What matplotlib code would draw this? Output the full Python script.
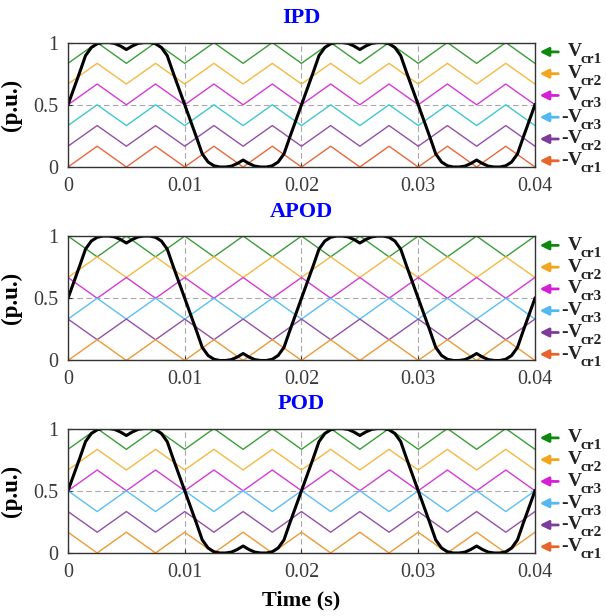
import numpy as np
import matplotlib.pyplot as plt

plt.rcParams['font.family'] = ['Liberation Serif', 'DejaVu Serif']

# modulating signal, read every 0.5 ms over two periods (p.u.)
ref_period = [0.5, 0.63, 0.76, 0.895, 0.96, 0.99, 1.0, 1.0, 0.993, 0.972,
              0.944, 0.972, 0.993, 1.0, 1.0, 0.99, 0.96, 0.895, 0.76, 0.63,
              0.5, 0.37, 0.24, 0.105, 0.04, 0.01, 0.0, 0.0, 0.007, 0.028,
              0.056, 0.028, 0.007, 0.0, 0.0, 0.01, 0.04, 0.105, 0.24, 0.37]
ref_values = ref_period + ref_period + [0.5]
ref_time = np.linspace(0, 0.04, len(ref_values))

# carriers: triangle vertices every 2.5 ms
carrier_time = np.linspace(0, 0.04, 17)
carrier_low = [0.833, 0.667, 0.5, 0.333, 0.167, 0.0]
carrier_high = [1.0, 0.833, 0.667, 0.5, 0.333, 0.167]

schemes = ['IPD', 'APOD', 'POD']
# does the carrier start on its upper vertex at t = 0?
ipd_start_high = [False, False, False, False, False, False]
apod_start_high = [True, False, True, False, True, False]
pod_start_high = [False, False, False, True, True, True]

ipd_colors = ['#3a9e3a', '#f5b942', '#d63ad6', '#3fc8cf', '#9450a8', '#e8693c']
od_colors = ['#3a9e3a', '#f5b942', '#d63ad6', '#5bbff2', '#9450a8', '#ee9a35']
arrow_colors = ['#0d8a0d', '#f2a51d', '#d61ed6', '#52b9f2', '#7d3b9a', '#e8642a']
legend_signs = ['', '', '', '-', '-', '-']
legend_subs = ['cr1', 'cr2', 'cr3', 'cr3', 'cr2', 'cr1']

fig = plt.figure(figsize=(6.06, 6.16), dpi=100)
panel_bottoms = [0.7289, 0.4148, 0.1023]
starts = [ipd_start_high, apod_start_high, pod_start_high]
colors = [ipd_colors, od_colors, od_colors]

for k, name in enumerate(schemes):
    ax = fig.add_axes([0.1122, panel_bottoms[k], 0.7706, 0.2020])
    for i in range(6):
        lo, hi = carrier_low[i], carrier_high[i]
        first, second = (hi, lo) if starts[k][i] else (lo, hi)
        verts = [first if j % 2 == 0 else second for j in range(len(carrier_time))]
        ax.plot(carrier_time, verts, color=colors[k][i], lw=1.0)
    ax.plot(ref_time, ref_values, color='black', lw=2.2, solid_joinstyle='round')

    ax.set_xlim(0, 0.04)
    ax.set_ylim(0, 1)
    ax.set_xticks([0, 0.01, 0.02, 0.03, 0.04])
    ax.set_xticklabels(['0', '0.01', '0.02', '0.03', '0.04'])
    ax.set_yticks([0, 0.5, 1])
    ax.set_yticklabels(['0', '0.5', '1'])
    ax.tick_params(direction='in', length=3, labelsize=14.5, pad=7,
                   labelcolor='#3a3a3a', color='#333333')
    ax.grid(True, ls=(0, (5, 3)), color='#a8a8a8', lw=0.8)
    for sp in ax.spines.values():
        sp.set_color('#333333')
        sp.set_linewidth(1.0)
    ax.set_title(name, color='#0000ff', fontweight='bold', fontsize=16, pad=14)
    ax.set_ylabel('(p.u.)', fontweight='bold', fontsize=16.5, labelpad=8)

    # arrow legend on the right
    for i in range(6):
        y = 0.925 - i * 0.175
        ax.annotate('', xy=(1.010, y), xytext=(1.050, y), xycoords='axes fraction',
                    arrowprops=dict(arrowstyle='-|>', color=arrow_colors[i], lw=2.0,
                                    mutation_scale=13, shrinkA=0, shrinkB=0),
                    annotation_clip=False)
        ax.text(1.071, y - 0.035, 'V', transform=ax.transAxes, fontweight='bold',
                fontsize=14, va='baseline', ha='left', color='#222222')
        if legend_signs[i]:
            ax.text(1.070, y - 0.035, legend_signs[i], transform=ax.transAxes,
                    fontweight='bold', fontsize=14, va='baseline', ha='right',
                    color='#222222')
        ax.text(1.098, y - 0.092, legend_subs[i], transform=ax.transAxes,
                fontweight='bold', fontsize=11, va='baseline', ha='left',
                color='#222222')

    if k == 2:
        ax.set_xlabel('Time (s)', fontweight='bold', fontsize=16, labelpad=6)

fig.savefig('out.png', dpi=100)
